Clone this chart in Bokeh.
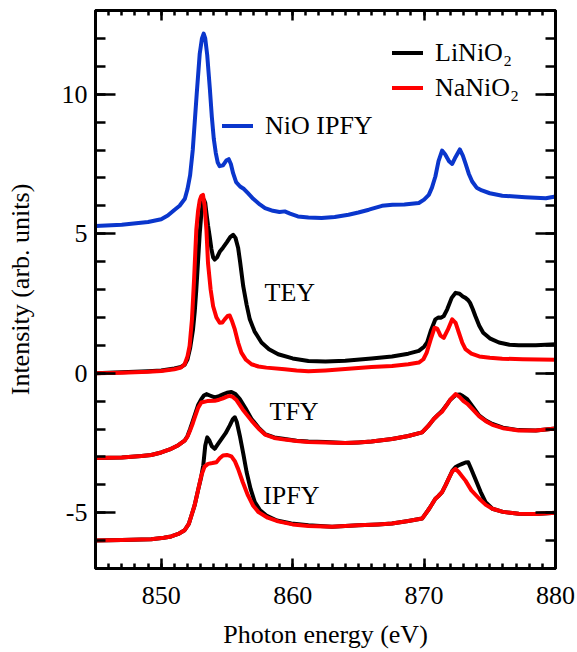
from bokeh.plotting import figure
from bokeh.models import (Range1d, LinearAxis, FixedTicker, Legend, LegendItem,
                          Label, CustomJSTickFormatter)
from bokeh.embed import file_html
from bokeh.resources import INLINE

FONT = "Liberation Serif"

# ---------------- data ----------------
x_ticks = [850, 860, 870, 880]
y_ticks = [-5, 0, 5, 10]

# NiO IPFY (blue)
nio_x = [845, 847, 849, 850, 850.5, 851, 851.4, 851.8, 852.0, 852.2, 852.4, 852.55, 852.7,
         852.93, 853.1, 853.23, 853.35, 853.5, 853.7, 853.85, 854.0, 854.15, 854.3, 854.45,
         854.7, 854.95, 855.14, 855.3, 855.47, 855.7, 856.0, 856.3, 856.6, 857.0, 857.5,
         857.9, 858.5, 859.0, 859.4, 859.8, 860.4, 861.2, 862.2, 863.2, 864.25, 865.0,
         865.8, 866.8, 867.6, 868.5, 869.6, 870.0, 870.36, 870.6, 870.86, 871.1, 871.37,
         871.6, 871.9, 872.14, 872.4, 872.72, 872.95, 873.15, 873.4, 873.66, 874.0, 874.4,
         875.0, 875.95, 877.7, 879.26, 880]
nio_y = [5.28, 5.32, 5.42, 5.52, 5.65, 5.85, 6.0, 6.25, 6.6, 7.1, 8.0, 9.0, 10.0,
         11.45, 12.0, 12.17, 12.0, 11.4, 10.2, 9.2, 8.4, 7.9, 7.55, 7.42,
         7.45, 7.62, 7.67, 7.5, 7.17, 6.85, 6.69, 6.6, 6.45, 6.25, 6.05,
         5.92, 5.82, 5.78, 5.8, 5.72, 5.62, 5.58, 5.56, 5.6, 5.68, 5.76,
         5.86, 6.0, 6.04, 6.05, 6.1, 6.22, 6.39, 6.65, 7.05, 7.6, 7.98,
         7.85, 7.6, 7.5, 7.75, 8.02, 7.8, 7.52, 7.15, 6.87, 6.65, 6.55,
         6.45, 6.36, 6.31, 6.27, 6.33]

# TEY
tey_li_x = [845, 847, 849, 850, 851, 851.5, 851.78, 852.0, 852.2, 852.42, 852.55, 852.67,
            852.8, 852.93, 853.05, 853.18, 853.26, 853.35, 853.44, 853.56, 853.69, 853.82,
            853.95, 854.07, 854.25, 854.45, 854.7, 855.0, 855.25, 855.47, 855.65, 855.85,
            856.0, 856.24, 856.5, 856.74, 857.1, 857.63, 858.2, 858.9, 860, 861.2, 862.5,
            864, 866, 867.56, 868.8, 869.6, 870.0, 870.23, 870.5, 870.86, 871.1, 871.3,
            871.5, 871.76, 872.1, 872.4, 872.7, 872.95, 873.15, 873.35, 873.5, 873.7,
            873.9, 874.2, 874.5, 875.0, 875.7, 876.5, 877.2, 878.5, 880]
tey_li_y = [0.0, 0.03, 0.07, 0.1, 0.17, 0.22, 0.3, 0.5, 0.9, 1.57, 2.2, 3.0,
            4.0, 5.0, 5.7, 6.15, 6.21, 6.1, 5.74, 5.3, 4.9, 4.45,
            4.15, 4.07, 4.15, 4.35, 4.5, 4.7, 4.88, 4.96, 4.85, 4.5,
            4.0, 3.12, 2.45, 1.93, 1.5, 1.1, 0.86, 0.68, 0.53, 0.44, 0.42,
            0.45, 0.53, 0.6, 0.7, 0.8, 0.95, 1.1, 1.5, 1.93, 2.0, 1.99,
            2.05, 2.29, 2.7, 2.88, 2.85, 2.75, 2.7, 2.62, 2.52, 2.3,
            2.05, 1.7, 1.45, 1.25, 1.1, 1.02, 1.0, 1.0, 1.04]
tey_na_x = [845, 847, 849, 850, 851, 851.5, 851.78, 852.0, 852.16, 852.34, 852.5, 852.67,
            852.8, 852.93, 853.05, 853.18, 853.3, 853.44, 853.56, 853.76, 853.95, 854.2,
            854.45, 854.65, 854.83, 855.05, 855.21, 855.4, 855.6, 855.85, 856.1, 856.45,
            856.87, 857.4, 858, 859.4, 860.3, 861.2, 862.5, 864, 866, 867.56, 868.8,
            869.6, 869.95, 870.2, 870.5, 870.8, 871.0, 871.25, 871.5, 871.8, 872.14,
            872.4, 872.65, 872.9, 873.15, 873.6, 874.2, 875, 875.95, 877.5, 880]
tey_na_y = [0.0, 0.02, 0.05, 0.08, 0.14, 0.2, 0.32, 0.6, 0.98, 1.93, 3.36, 5.14,
            5.8, 6.2, 6.35, 6.39, 6.0, 5.14, 3.95, 3.0, 2.4, 2.0,
            1.81, 1.82, 1.93, 2.05, 2.07, 1.85, 1.57, 1.1, 0.74, 0.48,
            0.32, 0.24, 0.2, 0.14, 0.1, 0.07, 0.1, 0.15, 0.22, 0.26, 0.32,
            0.38, 0.5, 0.74, 1.2, 1.63, 1.6, 1.35, 1.27, 1.55, 1.93,
            1.8, 1.45, 1.1, 0.86, 0.7, 0.6, 0.55, 0.52, 0.5, 0.48]

# TFY
tfy_li_x = [845, 847, 848.5, 849.24, 850, 850.76, 851.3, 851.78, 852.0, 852.2, 852.4, 852.54,
            852.8, 853.05, 853.25, 853.44, 853.7, 854.07, 854.4, 854.7, 855.0, 855.34,
            855.65, 855.98, 856.4, 856.87, 857.4, 857.9, 858.6, 859.4, 860.3, 861.2,
            862.5, 864, 865, 866, 867.56, 868.8, 869.85, 870.3, 870.74, 871.05, 871.37,
            871.7, 872.0, 872.4, 872.7, 872.95, 873.28, 873.7, 874.2, 874.7, 875.2, 876,
            877.2, 878.5, 880]
tfy_li_y = [-3.04, -3.02, -2.97, -2.93, -2.84, -2.71, -2.58, -2.42, -2.25, -2.0, -1.72, -1.52,
            -1.15, -0.93, -0.8, -0.75, -0.8, -0.87, -0.82, -0.76, -0.7, -0.67,
            -0.75, -0.93, -1.25, -1.64, -1.95, -2.18, -2.3, -2.36, -2.42, -2.45,
            -2.47, -2.5, -2.48, -2.45, -2.36, -2.25, -2.12, -1.9, -1.64, -1.5, -1.35,
            -1.15, -0.95, -0.78, -0.76, -0.82, -0.93, -1.2, -1.52, -1.7, -1.82, -1.95,
            -2.04, -2.05, -1.98]
tfy_na_x = [845, 847, 848.5, 849.24, 850, 850.76, 851.3, 851.78, 852.0, 852.2, 852.4, 852.54,
            852.8, 853.05, 853.5, 854.07, 854.4, 854.7, 855.0, 855.21, 855.45, 855.7,
            856.2, 856.87, 857.4, 857.9, 858.6, 859.4, 860.3, 861.2, 862.5, 864, 865,
            866, 867.56, 868.8, 869.85, 870.3, 870.74, 871.05, 871.37, 871.7, 872.0,
            872.4, 872.7, 873.0, 873.3, 873.7, 874.2, 874.7, 875.2, 876, 877.2, 878.5, 880]
tfy_na_y = [-3.04, -3.02, -2.97, -2.93, -2.84, -2.71, -2.58, -2.42, -2.27, -2.05, -1.8, -1.6,
            -1.25, -1.05, -1.0, -0.99, -0.95, -0.9, -0.84, -0.81, -0.85, -0.95,
            -1.3, -1.7, -1.98, -2.2, -2.32, -2.38, -2.43, -2.47, -2.48, -2.5, -2.48,
            -2.45, -2.36, -2.25, -2.12, -1.9, -1.64, -1.5, -1.38, -1.15, -0.95,
            -0.75, -0.85, -1.0, -1.1, -1.3, -1.55, -1.72, -1.85, -1.97, -2.05, -2.05, -1.98]

# IPFY
ipfy_li_x = [845, 847, 849.24, 850.2, 850.76, 851.3, 851.78, 852.1, 852.3, 852.54, 852.8,
             853.05, 853.2, 853.35, 853.5, 853.65, 853.85, 854.07, 854.3, 854.58, 854.9,
             855.21, 855.45, 855.6, 855.75, 855.98, 856.25, 856.5, 856.8, 857.12, 857.5,
             858, 858.8, 859.9, 861.2, 863, 865, 866.5, 867.56, 868.8, 869.85, 870.4,
             870.86, 871.1, 871.37, 871.65, 871.9, 872.15, 872.4, 872.65, 872.9, 873.15,
             873.36, 873.6, 873.9, 874.3, 874.68, 875.2, 876, 877.2, 878.5, 880]
ipfy_li_y = [-6.0, -5.98, -5.95, -5.9, -5.85, -5.76, -5.63, -5.4, -5.1, -4.74, -4.2,
             -3.7, -3.3, -2.6, -2.3, -2.4, -2.62, -2.71, -2.55, -2.36, -2.15,
             -1.88, -1.65, -1.58, -1.75, -2.24, -2.9, -3.55, -4.15, -4.62, -4.9,
             -5.1, -5.28, -5.39, -5.45, -5.5, -5.45, -5.42, -5.39, -5.3, -5.21, -4.85,
             -4.5, -4.4, -4.26, -4.0, -3.75, -3.5, -3.36, -3.3, -3.25, -3.2,
             -3.19, -3.45, -3.79, -4.25, -4.62, -4.86, -4.97, -5.04, -5.05, -5.0]
ipfy_na_x = [845, 847, 849.24, 850.2, 850.76, 851.3, 851.78, 852.1, 852.3, 852.54, 852.8,
             853.05, 853.3, 853.56, 853.9, 854.2, 854.45, 854.7, 855.0, 855.34, 855.6,
             855.85, 856.2, 856.6, 857.0, 857.4, 858.1, 858.9, 860, 861.2, 863, 865,
             866.5, 867.56, 868.8, 869.85, 870.4, 870.86, 871.1, 871.37, 871.65, 871.9,
             872.15, 872.4, 872.65, 872.9, 873.15, 873.6, 874.2, 874.7, 875.2, 876,
             877.2, 878.5, 880]
ipfy_na_y = [-6.0, -5.98, -5.95, -5.9, -5.85, -5.76, -5.63, -5.4, -5.1, -4.74, -4.2,
             -3.67, -3.35, -3.25, -3.22, -3.19, -3.05, -2.95, -2.93, -2.98, -3.15,
             -3.43, -3.9, -4.38, -4.75, -4.98, -5.18, -5.31, -5.42, -5.48, -5.5, -5.45,
             -5.42, -5.39, -5.3, -5.21, -4.85, -4.5, -4.4, -4.26, -4.0, -3.75,
             -3.52, -3.43, -3.55, -3.7, -3.85, -4.2, -4.5, -4.72, -4.86, -4.97,
             -5.04, -5.05, -5.0]

BLACK = "#000000"
RED = "#ff0000"
BLUE = "#0a36cc"
LW = 4

# ---------------- figure ----------------
W, H = 577, 652
p = figure(width=W, height=H, output_backend="svg", toolbar_location=None,
           x_range=Range1d(845, 880), y_range=Range1d(-7, 13),
           min_border_left=95, min_border_right=22, min_border_top=10,
           min_border_bottom=84,
           x_axis_label="Photon energy (eV)",
           y_axis_label="Intensity (arb. units)")
p.grid.visible = False
p.outline_line_color = "black"
p.outline_line_width = 3
p.background_fill_color = "white"
p.border_fill_color = "white"

xticker = FixedTicker(ticks=x_ticks, minor_ticks=list(range(846, 880)))
yticker = FixedTicker(ticks=y_ticks, minor_ticks=list(range(-6, 13)))


def style_axis(ax, horizontal):
    ax.axis_line_width = 3
    ax.axis_line_color = "black"
    ax.major_tick_line_width = 2.5
    ax.minor_tick_line_width = 2.5
    ax.major_tick_out = 0
    ax.minor_tick_out = 0
    if horizontal:
        ax.major_tick_in = 10
        ax.minor_tick_in = 5
    else:
        ax.major_tick_in = 20
        ax.minor_tick_in = 10
    ax.major_label_text_font = FONT
    ax.major_label_text_font_size = "26px"
    ax.major_label_text_color = "black"
    ax.axis_label_text_font = FONT
    ax.axis_label_text_font_size = "26px"
    ax.axis_label_text_font_style = "normal"
    ax.axis_label_text_color = "black"


xb = p.xaxis[0]
xb.ticker = xticker
style_axis(xb, True)
xb.major_label_standoff = 18
xb.axis_label_standoff = 13

yl = p.yaxis[0]
yl.ticker = yticker
style_axis(yl, False)
yl.major_label_standoff = 8
yl.axis_label_standoff = 24
yl.major_label_overrides = {-5: "-5"}

blank = "return ''"
xt = LinearAxis(ticker=xticker, formatter=CustomJSTickFormatter(code=blank))
style_axis(xt, True)
xt.major_label_standoff = 0
xt.major_label_text_font_size = "1px"
p.add_layout(xt, "above")

yr = LinearAxis(ticker=yticker, formatter=CustomJSTickFormatter(code=blank))
style_axis(yr, False)
yr.major_label_standoff = 0
yr.major_label_text_font_size = "1px"
p.add_layout(yr, "right")

# ---------------- curves ----------------
kw = dict(line_width=LW, line_join="round", line_cap="round")
r_nio = p.line(nio_x, nio_y, line_color=BLUE, **kw)
r_li = p.line(tey_li_x, tey_li_y, line_color=BLACK, **kw)
p.line(tfy_li_x, tfy_li_y, line_color=BLACK, **kw)
p.line(ipfy_li_x, ipfy_li_y, line_color=BLACK, **kw)
r_na = p.line(tey_na_x, tey_na_y, line_color=RED, **kw)
p.line(tfy_na_x, tfy_na_y, line_color=RED, **kw)
p.line(ipfy_na_x, ipfy_na_y, line_color=RED, **kw)

# ---------------- legends ----------------
def make_legend(items, loc):
    return Legend(items=items, location=loc, orientation="vertical",
                  glyph_width=31, glyph_height=35, label_height=35, spacing=0,
                  padding=0, margin=0, label_standoff=12,
                  border_line_color=None, background_fill_alpha=0,
                  label_text_font=FONT, label_text_font_size="26px",
                  label_text_color="black")


leg1 = make_legend([LegendItem(label="LiNiO\u2082", renderers=[r_li]),
                    LegendItem(label="NaNiO\u2082", renderers=[r_na])], (297, 463))
leg2 = make_legend([LegendItem(label="NiO IPFY", renderers=[r_nio])], (127, 425))
p.add_layout(leg1)
p.add_layout(leg2)

# ---------------- texts ----------------
for txt, lx, ly in [("TEY", 857.86, 2.9), ("TFY", 858.24, -1.39), ("IPFY", 857.76, -4.38)]:
    p.add_layout(Label(x=lx, y=ly, text=txt, text_font=FONT, text_font_size="26px",
                       text_baseline="alphabetic", text_align="left", text_color="black"))

open("out.html", "w").write(file_html(p, INLINE))
